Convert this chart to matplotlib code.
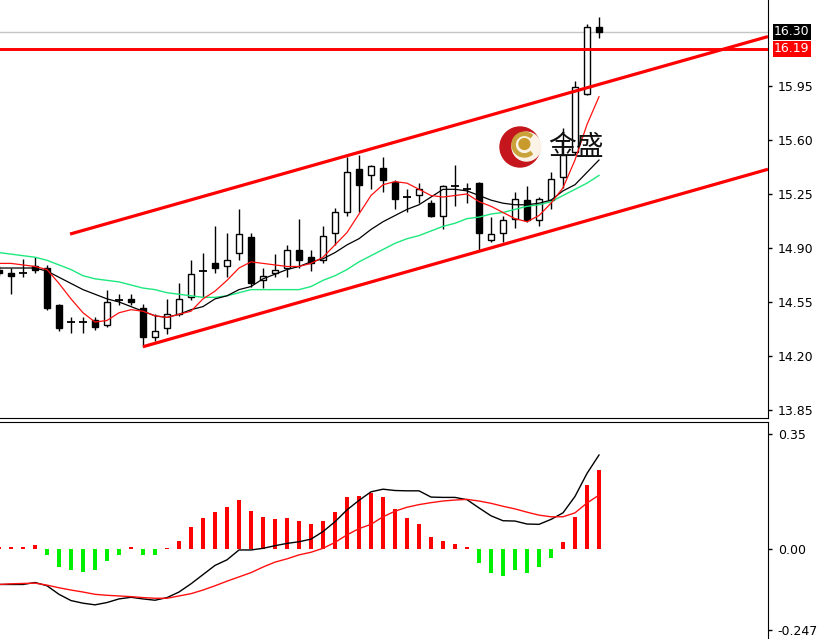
import numpy as np
import matplotlib
matplotlib.use('Agg')
import matplotlib.pyplot as plt
from matplotlib.patches import Circle, Wedge

# candles, index -1 .. 49 (the first one is cut by the left edge)
opens = [14.76, 14.74, 14.75, 14.78, 14.77, 14.53, 14.43, 14.43, 14.43, 14.40,
         14.55, 14.57, 14.51, 14.32, 14.38, 14.47, 14.58, 14.74, 14.80, 14.78,
         14.87, 14.97, 14.69, 14.74, 14.77, 14.89, 14.84, 14.82, 15.00, 15.13,
         15.41, 15.37, 15.42, 15.33, 15.24, 15.24, 15.19, 15.11, 15.31, 15.29,
         15.32, 14.95, 15.00, 15.09, 15.21, 15.08, 15.21, 15.36, 15.52, 15.90,
         16.33]
highs = [14.78, 14.77, 14.83, 14.84, 14.79, 14.54, 14.45, 14.45, 14.45, 14.63,
         14.60, 14.60, 14.54, 14.47, 14.57, 14.67, 14.82, 14.87, 15.04, 15.00,
         15.15, 15.00, 14.77, 14.86, 14.92, 15.09, 14.89, 15.04, 15.16, 15.49,
         15.50, 15.44, 15.49, 15.34, 15.28, 15.32, 15.21, 15.31, 15.44, 15.32,
         15.33, 15.10, 15.11, 15.26, 15.30, 15.23, 15.39, 15.68, 15.98, 16.35,
         16.40]
lows = [14.72, 14.60, 14.71, 14.74, 14.50, 14.36, 14.35, 14.35, 14.37, 14.39,
        14.53, 14.53, 14.26, 14.30, 14.34, 14.46, 14.56, 14.58, 14.74, 14.71,
        14.82, 14.65, 14.64, 14.71, 14.71, 14.77, 14.75, 14.80, 14.92, 15.11,
        15.13, 15.28, 15.26, 15.15, 15.13, 15.19, 15.10, 15.02, 15.17, 15.19,
        14.89, 14.94, 14.94, 15.03, 15.07, 15.04, 15.15, 15.29, 15.50, 15.89,
        16.26]
closes = [14.74, 14.72, 14.74, 14.76, 14.51, 14.38, 14.42, 14.42, 14.39, 14.55,
          14.56, 14.55, 14.32, 14.36, 14.47, 14.57, 14.73, 14.75, 14.77, 14.82,
          14.99, 14.67, 14.72, 14.76, 14.89, 14.82, 14.80, 14.98, 15.13, 15.39,
          15.31, 15.43, 15.34, 15.22, 15.23, 15.28, 15.11, 15.30, 15.30, 15.28,
          15.00, 14.99, 15.08, 15.22, 15.08, 15.22, 15.35, 15.50, 15.94, 16.33,
          16.30]

ma_red = [14.80, 14.80, 14.79, 14.78, 14.76, 14.67, 14.57, 14.48, 14.42, 14.43,
          14.48, 14.50, 14.49, 14.46, 14.45, 14.47, 14.49, 14.57, 14.62, 14.69,
          14.77, 14.81, 14.80, 14.79, 14.78, 14.78, 14.80, 14.84, 14.92, 15.00,
          15.12, 15.24, 15.31, 15.33, 15.32, 15.28, 15.24, 15.23, 15.24, 15.25,
          15.20, 15.17, 15.13, 15.09, 15.07, 15.11, 15.19, 15.29, 15.47, 15.70,
          15.88]
ma_black = [14.77, 14.77, 14.77, 14.77, 14.75, 14.71, 14.67, 14.63, 14.60, 14.57,
            14.55, 14.52, 14.49, 14.46, 14.45, 14.47, 14.50, 14.52, 14.57, 14.59,
            14.63, 14.65, 14.70, 14.73, 14.76, 14.78, 14.81, 14.83, 14.87, 14.92,
            14.96, 15.02, 15.07, 15.11, 15.15, 15.18, 15.23, 15.28, 15.28, 15.27,
            15.24, 15.21, 15.19, 15.18, 15.18, 15.19, 15.21, 15.27, 15.31, 15.39,
            15.47]
ma_green = [14.87, 14.86, 14.85, 14.84, 14.82, 14.79, 14.76, 14.72, 14.70, 14.69,
            14.68, 14.66, 14.64, 14.63, 14.61, 14.60, 14.59, 14.58, 14.58, 14.59,
            14.61, 14.63, 14.63, 14.63, 14.63, 14.63, 14.65, 14.69, 14.72, 14.76,
            14.81, 14.85, 14.89, 14.93, 14.96, 14.98, 15.01, 15.04, 15.06, 15.09,
            15.10, 15.12, 15.13, 15.15, 15.17, 15.18, 15.20, 15.24, 15.28, 15.32,
            15.37]

# MACD panel
hist = [0.005, 0.005, 0.005, 0.012, -0.018, -0.054, -0.064, -0.069, -0.064, -0.036,
        -0.018, 0.007, -0.018, -0.018, 0.003, 0.025, 0.066, 0.095, 0.114, 0.127,
        0.149, 0.117, 0.098, 0.090, 0.093, 0.085, 0.075, 0.086, 0.112, 0.157,
        0.161, 0.171, 0.157, 0.121, 0.093, 0.075, 0.036, 0.025, 0.015, 0.007,
        -0.042, -0.072, -0.081, -0.064, -0.074, -0.054, -0.026, 0.022, 0.098, 0.195,
        0.240]
macd = [-0.108, -0.108, -0.108, -0.102, -0.112, -0.138, -0.157, -0.165, -0.170, -0.163,
        -0.152, -0.147, -0.152, -0.156, -0.148, -0.131, -0.106, -0.078, -0.050, -0.033,
        -0.003, -0.003, 0.002, 0.010, 0.017, 0.022, 0.030, 0.053, 0.083, 0.119,
        0.148, 0.174, 0.182, 0.178, 0.177, 0.177, 0.158, 0.157, 0.157, 0.150,
        0.125, 0.101, 0.086, 0.085, 0.076, 0.075, 0.090, 0.110, 0.160, 0.230,
        0.286]
signal = [-0.108, -0.106, -0.105, -0.104, -0.110, -0.118, -0.125, -0.131, -0.138, -0.141,
          -0.143, -0.145, -0.148, -0.150, -0.150, -0.143, -0.136, -0.125, -0.112, -0.098,
          -0.085, -0.072, -0.055, -0.040, -0.030, -0.018, -0.010, 0.002, 0.020, 0.043,
          0.062, 0.075, 0.098, 0.115, 0.127, 0.135, 0.141, 0.146, 0.149, 0.151,
          0.146, 0.139, 0.130, 0.122, 0.112, 0.103, 0.098, 0.098, 0.110, 0.140,
          0.164]

# drawn channel lines: (bar index, price)
upper_line = [(4.92, 14.99), (63.08, 16.27)]
lower_line = [(11.0, 14.26), (63.08, 15.41)]
resist_level = 16.19
last_price = 16.30

price_ticks = [13.85, 14.20, 14.55, 14.90, 15.25, 15.60, 15.95]
macd_ticks = [0.35, 0.00, -0.247]
macd_labels = ['0.35', '0.00', '-0.247']

plt.rcParams['font.family'] = ['DejaVu Sans']

W, H = 817, 639
fig = plt.figure(figsize=(W / 100, H / 100), dpi=100)
ax = fig.add_axes([0, 1 - 418 / H, 768 / W, 418 / H])
ax2 = fig.add_axes([0, 0, 768 / W, 217 / H])

x = np.arange(len(opens)) - 1
xlim = (-11 / 12, 757 / 12)

# candles
for xi, o, h, l, c in zip(x, opens, highs, lows, closes):
    ax.vlines(xi, l, h, color='black', lw=1, zorder=2)
    if abs(c - o) < 0.015:
        ax.hlines(c, xi - 0.3, xi + 0.3, color='black', lw=1.3, zorder=3)
    else:
        fc = 'white' if c > o else 'black'
        ax.bar(xi, abs(c - o), bottom=min(o, c), width=0.58, color=fc,
               edgecolor='black', lw=1, zorder=3)

ax.plot(x, ma_green, color='#1de87e', lw=1, zorder=4)
ax.plot(x, ma_black, color='black', lw=0.9, zorder=4)
ax.plot(x, ma_red, color='#ff1010', lw=0.9, zorder=4)

ax.axhline(last_price, color='#c4c4c4', lw=1, zorder=1)
ax.axhline(resist_level, color='#ff0000', lw=2.1, zorder=5)
for line in (upper_line, lower_line):
    ax.plot([p[0] for p in line], [p[1] for p in line], color='#ff0000',
            lw=2.3, zorder=5, solid_capstyle='butt')

ax.set_xlim(*xlim)
ax.set_ylim(13.798, 16.507)
ax.set_xticks([])
ax.yaxis.tick_right()
ax.set_yticks(price_ticks)
ax.set_yticklabels(['%.2f' % t for t in price_ticks])
ax.tick_params(axis='y', length=3, width=1, pad=4, labelsize=9)
for s in ('left', 'top'):
    ax.spines[s].set_visible(False)

tr = ax.get_yaxis_transform()
ax.text(1.008, last_price, '%.2f' % last_price, transform=tr, color='white',
        fontsize=9, va='center', ha='left', clip_on=False,
        bbox=dict(boxstyle='square,pad=0.12', fc='black', ec='none'))
ax.text(1.008, resist_level, '%.2f' % resist_level, transform=tr, color='white',
        fontsize=9, va='center', ha='left', clip_on=False,
        bbox=dict(boxstyle='square,pad=0.12', fc='#ff0000', ec='none'))

# MACD
bar_cols = ['#ff0000' if v >= 0 else '#00ee00' for v in hist]
ax2.bar(x, hist, width=0.36, color=bar_cols, zorder=2)
ax2.plot(x, macd, color='black', lw=1, zorder=3)
ax2.plot(x, signal, color='#ff1010', lw=1, zorder=3)
ax2.set_xlim(*xlim)
ax2.set_ylim(-0.274, 0.3865)
ax2.set_xticks([])
ax2.yaxis.tick_right()
ax2.set_yticks(macd_ticks)
ax2.set_yticklabels(macd_labels)
ax2.tick_params(axis='y', length=3, width=1, pad=4, labelsize=9)
for s in ('left', 'bottom'):
    ax2.spines[s].set_visible(False)

# logo
lg = fig.add_axes([498 / W, 1 - 169 / H, 44 / W, 44 / H])
lg.set_xlim(-1.1, 1.1)
lg.set_ylim(-1.1, 1.1)
lg.set_aspect('equal')
lg.axis('off')
lg.add_patch(Circle((0, 0), 1.0, color='#c4161c'))
lg.add_patch(Circle((0.32, 0.02), 0.72, color='#fbf3e6'))
lg.add_patch(Wedge((0.22, 0.12), 0.62, 50, 310, width=0.16, color='#c9a23a'))
lg.add_patch(Circle((0.22, 0.15), 0.27, color='#c89b2c'))
fig.text(548 / W, 1 - 147 / H, '金盛', fontsize=20, va='center', ha='left',
         family=['Noto Sans CJK SC', 'DejaVu Sans'], color='#111111')

fig.savefig('out.png', dpi=100, facecolor='white')
